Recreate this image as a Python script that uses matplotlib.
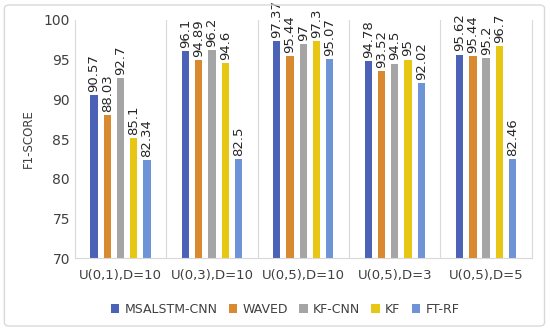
import numpy as np
import matplotlib.pyplot as plt
from matplotlib.patches import FancyBboxPatch

# Data
categories = ['U(0,1),D=10', 'U(0,3),D=10', 'U(0,5),D=10', 'U(0,5),D=3', 'U(0,5),D=5']
methods = ['MSALSTM-CNN', 'WAVED', 'KF-CNN', 'KF', 'FT-RF']
msalstm = [90.57, 96.1, 97.37, 94.78, 95.62]
waved = [88.03, 94.89, 95.44, 93.52, 95.44]
kfcnn = [92.7, 96.2, 97, 94.5, 95.2]
kf = [85.1, 94.6, 97.3, 95, 96.7]
ftrf = [82.34, 82.5, 95.07, 92.02, 82.46]
labels = [['90.57', '96.1', '97.37', '94.78', '95.62'],
          ['88.03', '94.89', '95.44', '93.52', '95.44'],
          ['92.7', '96.2', '97', '94.5', '95.2'],
          ['85.1', '94.6', '97.3', '95', '96.7'],
          ['82.34', '82.5', '95.07', '92.02', '82.46']]
colors = ['#4C62B6', '#D9892F', '#A5A5A5', '#E8C614', '#6E93D6']

series = [msalstm, waved, kfcnn, kf, ftrf]

fig = plt.figure(figsize=(5.5, 3.31), dpi=100)
ax = fig.add_axes([0.136, 0.22, 0.831, 0.72])

# outer rounded border
border = FancyBboxPatch((0.008, 0.015), 0.982, 0.97, boxstyle='round,pad=0,rounding_size=0.01',
                        transform=fig.transFigure, fill=False, edgecolor='#D9D9D9', linewidth=1)
fig.patches.append(border)

x = np.arange(len(categories))
spacing = 0.145
width = 0.08
for i, (vals, c) in enumerate(zip(series, colors)):
    pos = x + (i - 2) * spacing
    ax.bar(pos, np.array(vals) - 70, width, bottom=70, color=c, label=methods[i])
    for p, v, t in zip(pos, vals, labels[i]):
        ax.text(p, v + 0.4, t, rotation=90, ha='center', va='bottom', fontsize=9.5, color='#262626')

ax.set_xlim(-0.5, len(categories) - 0.5)
ax.set_ylim(70, 100)
ax.set_yticks(range(70, 101, 5))
ax.set_xticks(x)
ax.set_xticklabels(categories, fontsize=9.5, color='#404040')
ax.tick_params(axis='y', labelsize=10, colors='#404040', length=0)
ax.tick_params(axis='x', length=0, pad=8)
ax.set_ylabel('F1-SCORE', fontsize=8.5, color='#404040', labelpad=6)

for b in np.arange(0.5, len(categories) - 0.5):
    ax.axvline(b, color='#D9D9D9', linewidth=0.8)
ax.spines['top'].set_visible(False)
for s in ['left', 'bottom', 'right']:
    ax.spines[s].set_color('#D9D9D9')

ax.legend(loc='upper center', bbox_to_anchor=(0.46, -0.14), ncol=5, frameon=False,
          fontsize=9, handlelength=0.7, handleheight=0.7, handletextpad=0.4, columnspacing=0.9,
          labelcolor='#404040')

fig.savefig('out.png', dpi=100)
